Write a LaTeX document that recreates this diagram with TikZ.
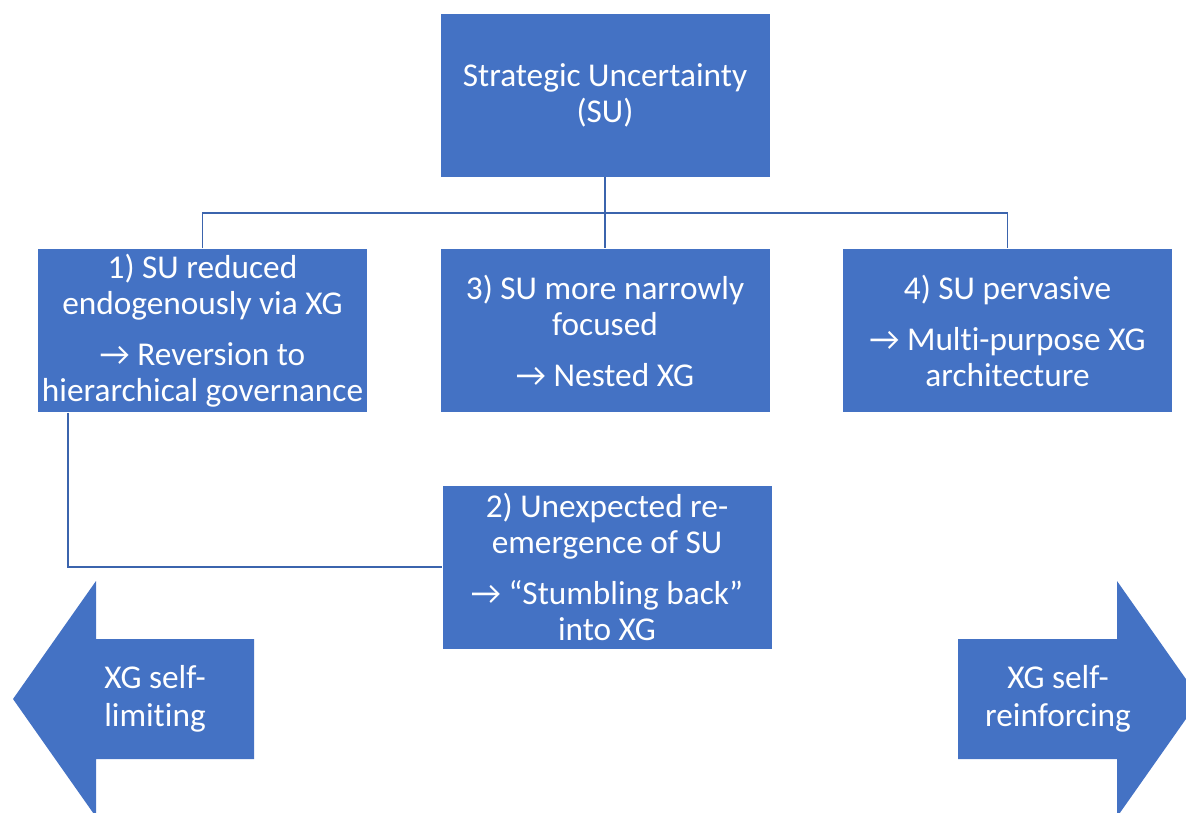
\documentclass[tikz,border=0pt]{standalone}
\usepackage{fontspec}
\setmainfont[Ligatures=NoCommon]{Carlito}
\usetikzlibrary{positioning}
\definecolor{boxblue}{HTML}{4472C4}
\definecolor{lineblue}{HTML}{3B64AD}

\tikzset{
  subox/.style={fill=boxblue, draw=white, line width=0.5pt,
    minimum width=330pt, minimum height=164pt, inner sep=0pt,
    text=white, align=center, font=\fontsize{33.3}{36}\selectfont},
  link/.style={draw=lineblue, line width=1.8pt},
  arrowtext/.style={text=white, align=center, inner sep=0pt,
    font=\fontsize{33.3}{38}\selectfont},
}

\begin{document}
\begin{tikzpicture}[x=1pt, y=-1pt]
    \useasboundingbox (0,0) rectangle (1186,813);

    % boxes
    \node[subox] (su) at (605,95) {Strategic Uncertainty\\(SU)};
    \node[subox, below=71pt of su] (narrow)
        {3) SU more narrowly\\focused\\[15pt]→ Nested XG};
    \node[subox, left=72pt of narrow] (reduced)
        {1) SU reduced\\endogenously via XG\\[15pt]→ Reversion to\\hierarchical governance};
    \node[subox, right=72pt of narrow] (pervasive)
        {4) SU pervasive\\[15pt]→ Multi-purpose XG\\architecture};
    \node[subox, below=72pt of narrow, xshift=2pt] (reemerge)
        {2) Unexpected re-\\emergence of SU\\[15pt]→ “Stumbling back”\\into XG};

    % connectors
    \path (su.south) -- (narrow.north) coordinate[pos=0.5] (bus);
    \draw[link] (su.south) -- (narrow.north);
    \draw[link] (reduced.north) |- (bus) -| (pervasive.north);
    \draw[link] ([xshift=31pt]reduced.south west) |- (reemerge.west);

    % big arrows
    \fill[boxblue] (13,699) -- (96,581) -- (96,639) -- (254,639) -- (254,759)
        -- (96,759) -- (96,817) -- cycle;
    \fill[boxblue] (1200,699) -- (1117,581) -- (1117,639) -- (958,639) -- (958,759)
        -- (1117,759) -- (1117,817) -- cycle;
    \node[arrowtext] (limiting) at (155,699) {XG self-\\limiting};
    \node[arrowtext] (reinforcing) at (1058,699) {XG self-\\reinforcing};
\end{tikzpicture}
\end{document}
